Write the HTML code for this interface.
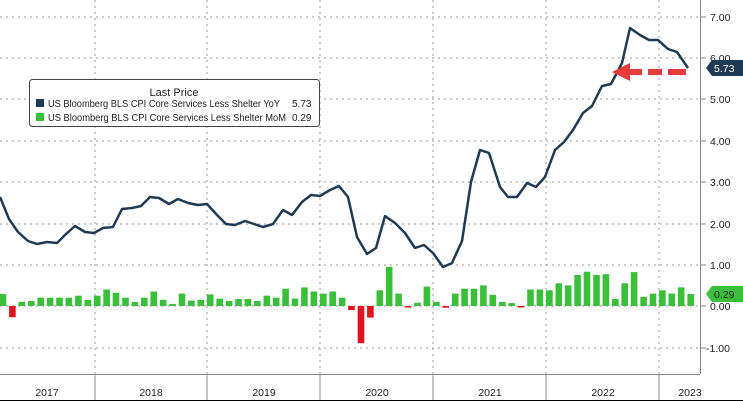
<!DOCTYPE html>
<html><head><style>
body{margin:0;background:#fff;}
svg text{font-family:"Liberation Sans",sans-serif;}
</style></head><body>
<svg width="743" height="401" viewBox="0 0 743 401" xmlns="http://www.w3.org/2000/svg">
<rect width="743" height="401" fill="#fff"/>
<g stroke="#999" stroke-width="1" stroke-dasharray="2,4">
<line x1="0" y1="17" x2="700" y2="17"/><line x1="0" y1="58" x2="700" y2="58"/><line x1="0" y1="99" x2="700" y2="99"/>
<line x1="0" y1="141" x2="700" y2="141"/><line x1="0" y1="182" x2="700" y2="182"/><line x1="0" y1="224" x2="700" y2="224"/>
<line x1="0" y1="265" x2="700" y2="265"/><line x1="0" y1="306" x2="700" y2="306"/><line x1="0" y1="348" x2="700" y2="348"/>
<line x1="95" y1="0" x2="95" y2="374"/><line x1="207" y1="0" x2="207" y2="374"/><line x1="320" y1="0" x2="320" y2="374"/>
<line x1="433" y1="0" x2="433" y2="374"/><line x1="546" y1="0" x2="546" y2="374"/><line x1="659" y1="0" x2="659" y2="374"/>
</g>
<g fill="#3bbf3b">
<rect x="-0.3" y="294.0" width="6.6" height="12.0"/>
<rect x="18.5" y="301.9" width="6.6" height="4.1"/>
<rect x="28.0" y="301.0" width="6.6" height="5.0"/>
<rect x="37.4" y="297.7" width="6.6" height="8.3"/>
<rect x="46.8" y="297.7" width="6.6" height="8.3"/>
<rect x="56.2" y="297.7" width="6.6" height="8.3"/>
<rect x="65.6" y="297.7" width="6.6" height="8.3"/>
<rect x="75.1" y="295.7" width="6.6" height="10.3"/>
<rect x="84.5" y="299.8" width="6.6" height="6.2"/>
<rect x="93.9" y="295.7" width="6.6" height="10.3"/>
<rect x="103.3" y="289.5" width="6.6" height="16.5"/>
<rect x="112.7" y="292.8" width="6.6" height="13.2"/>
<rect x="122.2" y="297.7" width="6.6" height="8.3"/>
<rect x="131.6" y="301.9" width="6.6" height="4.1"/>
<rect x="141.0" y="297.7" width="6.6" height="8.3"/>
<rect x="150.4" y="291.5" width="6.6" height="14.5"/>
<rect x="159.8" y="299.8" width="6.6" height="6.2"/>
<rect x="169.3" y="303.9" width="6.6" height="2.1"/>
<rect x="178.7" y="293.6" width="6.6" height="12.4"/>
<rect x="188.1" y="300.6" width="6.6" height="5.4"/>
<rect x="197.5" y="299.8" width="6.6" height="6.2"/>
<rect x="206.9" y="294.4" width="6.6" height="11.6"/>
<rect x="216.4" y="298.6" width="6.6" height="7.4"/>
<rect x="225.8" y="301.0" width="6.6" height="5.0"/>
<rect x="235.2" y="299.0" width="6.6" height="7.0"/>
<rect x="244.6" y="299.0" width="6.6" height="7.0"/>
<rect x="254.0" y="301.0" width="6.6" height="5.0"/>
<rect x="263.5" y="295.7" width="6.6" height="10.3"/>
<rect x="272.9" y="297.7" width="6.6" height="8.3"/>
<rect x="282.3" y="288.7" width="6.6" height="17.3"/>
<rect x="291.7" y="298.6" width="6.6" height="7.4"/>
<rect x="301.1" y="287.4" width="6.6" height="18.6"/>
<rect x="310.6" y="291.5" width="6.6" height="14.5"/>
<rect x="320.0" y="293.6" width="6.6" height="12.4"/>
<rect x="329.4" y="291.5" width="6.6" height="14.5"/>
<rect x="338.8" y="297.7" width="6.6" height="8.3"/>
<rect x="376.5" y="290.3" width="6.6" height="15.7"/>
<rect x="385.9" y="266.8" width="6.6" height="39.2"/>
<rect x="395.3" y="293.6" width="6.6" height="12.4"/>
<rect x="414.2" y="302.7" width="6.6" height="3.3"/>
<rect x="423.6" y="286.6" width="6.6" height="19.4"/>
<rect x="433.0" y="301.9" width="6.6" height="4.1"/>
<rect x="451.9" y="293.6" width="6.6" height="12.4"/>
<rect x="461.3" y="288.7" width="6.6" height="17.3"/>
<rect x="470.7" y="288.7" width="6.6" height="17.3"/>
<rect x="480.1" y="285.4" width="6.6" height="20.6"/>
<rect x="489.5" y="294.8" width="6.6" height="11.2"/>
<rect x="499.0" y="301.9" width="6.6" height="4.1"/>
<rect x="508.4" y="303.1" width="6.6" height="2.9"/>
<rect x="527.2" y="289.5" width="6.6" height="16.5"/>
<rect x="536.6" y="289.5" width="6.6" height="16.5"/>
<rect x="546.1" y="290.3" width="6.6" height="15.7"/>
<rect x="555.5" y="283.3" width="6.6" height="22.7"/>
<rect x="564.9" y="285.4" width="6.6" height="20.6"/>
<rect x="574.3" y="275.0" width="6.6" height="31.0"/>
<rect x="583.7" y="271.7" width="6.6" height="34.3"/>
<rect x="593.2" y="275.0" width="6.6" height="31.0"/>
<rect x="602.6" y="274.2" width="6.6" height="31.8"/>
<rect x="612.0" y="299.0" width="6.6" height="7.0"/>
<rect x="621.4" y="283.3" width="6.6" height="22.7"/>
<rect x="630.8" y="272.1" width="6.6" height="33.9"/>
<rect x="640.3" y="296.9" width="6.6" height="9.1"/>
<rect x="649.7" y="293.6" width="6.6" height="12.4"/>
<rect x="659.1" y="290.3" width="6.6" height="15.7"/>
<rect x="668.5" y="293.6" width="6.6" height="12.4"/>
<rect x="677.9" y="287.4" width="6.6" height="18.6"/>
<rect x="687.4" y="294.0" width="6.6" height="12.0"/>
</g>
<g fill="#e0141e">
<rect x="9.1" y="306" width="6.6" height="11.2"/>
<rect x="348.2" y="306" width="6.6" height="4.1"/>
<rect x="357.7" y="306" width="6.6" height="37.2"/>
<rect x="367.1" y="306" width="6.6" height="11.6"/>
<rect x="404.8" y="306" width="6.6" height="1.5"/>
<rect x="442.4" y="306" width="6.6" height="1.7"/>
<rect x="517.8" y="306" width="6.6" height="1.5"/>
</g>
<polyline fill="none" stroke="#1f3a52" stroke-width="2.5" stroke-linejoin="round" points="0,197 9,219 18,232 28,241 37,244 47,242 57,243 66,234 75,226 85,232 94,233 103,228 113,227 122,209 132,208 141,206 150,197 159,198 169,204 178,199 188,203 198,205 207,204 217,215 226,224 235,225 245,221 254,224 263,227 273,224 283,210 292,215 302,202 311,195 320,196 330,190 339,186 348,197 357,237 367,254 376,248 385,216 395,223 405,233 415,248 424,245 433,253 443,267 452,263 462,241 471,182 480,150 489,153 500,187 508,197 517,197 527,183 536,187 545,177 555,150 564,142 573,130 583,113 592,106 602,86 611,84 622,63 630,28 640,35 649,40 658,40 668,49 677,52 688,68"/>
<g fill="#e8393b"><polygon points="612,72 630,63 630,81"/><rect x="630" y="69" width="12" height="6"/><rect x="648" y="69" width="14" height="6"/><rect x="668" y="69" width="18" height="6"/></g>
<rect x="29.5" y="79.5" width="290" height="47" rx="3" fill="#fff" stroke="#444"/>
<text x="174" y="96" font-size="11" text-anchor="middle" fill="#222">Last Price</text>
<rect x="36" y="99" width="8" height="8" fill="#1f3a52"/>
<text x="48" y="107" font-size="10" fill="#222" textLength="232" lengthAdjust="spacingAndGlyphs">US Bloomberg BLS CPI Core Services Less Shelter YoY</text>
<text x="292" y="107" font-size="10" fill="#222">5.73</text>
<rect x="36" y="113" width="8" height="8" fill="#3bbf3b"/>
<text x="48" y="121" font-size="10" fill="#222" textLength="238" lengthAdjust="spacingAndGlyphs">US Bloomberg BLS CPI Core Services Less Shelter MoM</text>
<text x="292" y="121" font-size="10" fill="#222">0.29</text>
<line x1="700.5" y1="0" x2="700.5" y2="374" stroke="#888"/>
<line x1="0" y1="374.5" x2="700" y2="374.5" stroke="#888"/>
<g font-size="10.5" fill="#222">
<text x="710" y="21">7.00</text><text x="710" y="62">6.00</text><text x="710" y="103">5.00</text><text x="710" y="145">4.00</text>
<text x="710" y="186">3.00</text><text x="710" y="228">2.00</text><text x="710" y="269">1.00</text><text x="710" y="310">0.00</text><text x="706" y="352">-1.00</text>
</g>
<g stroke="#888"><line x1="700" y1="17" x2="706" y2="17"/><line x1="700" y1="58" x2="706" y2="58"/><line x1="700" y1="99" x2="706" y2="99"/><line x1="700" y1="141" x2="706" y2="141"/><line x1="700" y1="182" x2="706" y2="182"/><line x1="700" y1="224" x2="706" y2="224"/><line x1="700" y1="265" x2="706" y2="265"/><line x1="700" y1="306" x2="706" y2="306"/><line x1="700" y1="348" x2="706" y2="348"/>
<line x1="95" y1="374" x2="95" y2="400"/><line x1="207" y1="374" x2="207" y2="400"/><line x1="320" y1="374" x2="320" y2="400"/><line x1="433" y1="374" x2="433" y2="400"/><line x1="546" y1="374" x2="546" y2="400"/><line x1="659" y1="374" x2="659" y2="400"/></g>
<polygon points="706,68 712,60 743,60 743,76 712,76" fill="#1f3a52"/><text x="714" y="72" font-size="10.5" fill="#fff">5.73</text>
<polygon points="706,294 712,286 743,286 743,302 712,302" fill="#3bbf3b"/><text x="714" y="298" font-size="10.5" fill="#222">0.29</text>
<g font-size="10.5" fill="#222" text-anchor="middle">
<text x="47" y="396">2017</text><text x="151" y="396">2018</text><text x="264" y="396">2019</text><text x="377" y="396">2020</text><text x="490" y="396">2021</text><text x="603" y="396">2022</text><text x="690" y="396">2023</text>
</g>
<line x1="0" y1="400.5" x2="743" y2="400.5" stroke="#000"/>
</svg>
</body></html>
